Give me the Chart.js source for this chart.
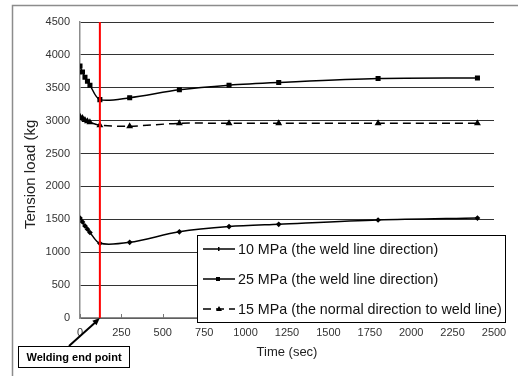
<!DOCTYPE html>
<html>
<head>
<meta charset="utf-8">
<script src="https://cdn.jsdelivr.net/npm/chart.js@4/dist/chart.umd.min.js"></script>
<style>
    html, body { margin: 0; padding: 0; background: #fff; }
    #wrap { width: 518px; height: 376px; }
</style>
</head>
<body>
<div id="wrap"><canvas id="chart"></canvas></div>
<script>
// Data
const times = [0, 15, 30, 45, 60, 120, 300, 600, 900, 1200, 1800, 2400];
const load10 = [1520, 1460, 1400, 1350, 1300, 1135, 1150, 1310, 1390, 1425, 1490, 1520];
const load25 = [3830, 3740, 3660, 3600, 3540, 3320, 3350, 3470, 3540, 3580, 3640, 3650];
const load15 = [3060, 3040, 3010, 2990, 2975, 2930, 2915, 2960, 2960, 2960, 2960, 2960];
const seriesNames = [
    '10 MPa (the weld line direction)',
    '25 MPa (the weld line direction)',
    '15 MPa (the normal direction to weld line)'
];
const weldEnd = 120;
const xTicks = [0, 250, 500, 750, 1000, 1250, 1500, 1750, 2000, 2250, 2500];
const yTicks = [0, 500, 1000, 1500, 2000, 2500, 3000, 3500, 4000, 4500];

const FONT = "'Liberation Sans', Arial, sans-serif";

function toPoints(vals) {
    return times.map((t, i) => ({ x: t, y: vals[i] }));
}

// Frame, titles, red line, legend and callout
const extras = {
    id: 'extras',
    afterDraw(chart) {
        const ctx = chart.ctx;
        const area = chart.chartArea;
        const xs = chart.scales.x;
        ctx.save();

        // outer frame (top + left only visible)
        ctx.strokeStyle = '#8c8c8c';
        ctx.lineWidth = 1.5;
        ctx.beginPath();
        ctx.moveTo(12.5, 380);
        ctx.lineTo(12.5, 5.5);
        ctx.lineTo(520, 5.5);
        ctx.stroke();

        // inward tick marks on x axis
        ctx.strokeStyle = '#777';
        ctx.lineWidth = 1;
        xTicks.forEach(v => {
            const px = Math.round(xs.getPixelForValue(v)) + 0.5;
            ctx.beginPath();
            ctx.moveTo(px, area.bottom);
            ctx.lineTo(px, area.bottom - 4);
            ctx.stroke();
        });

        // welding end line
        const rx = xs.getPixelForValue(weldEnd);
        ctx.strokeStyle = '#ff0000';
        ctx.lineWidth = 2;
        ctx.beginPath();
        ctx.moveTo(rx, area.top);
        ctx.lineTo(rx, area.bottom);
        ctx.stroke();

        // y title
        ctx.fillStyle = '#222';
        ctx.font = '15px ' + FONT;
        ctx.save();
        ctx.translate(35, 229);
        ctx.rotate(-Math.PI / 2);
        ctx.textAlign = 'left';
        ctx.textBaseline = 'alphabetic';
        ctx.fillText('Tension load (kg', 0, 0);
        ctx.restore();

        // x title
        ctx.font = '13px ' + FONT;
        ctx.textAlign = 'center';
        ctx.textBaseline = 'middle';
        ctx.fillText('Time (sec)', (area.left + area.right) / 2, 352);

        // legend box
        const lx = 197.5, ly = 235.5, lw = 308, lh = 87;
        ctx.fillStyle = '#fff';
        ctx.fillRect(lx, ly, lw, lh);
        ctx.strokeStyle = '#000';
        ctx.lineWidth = 1;
        ctx.strokeRect(lx, ly, lw, lh);
        const rows = [249, 279, 309];
        chart.data.datasets.forEach((ds, i) => {
            const y = rows[i];
            ctx.strokeStyle = '#000';
            ctx.lineWidth = 1.5;
            ctx.setLineDash(ds.borderDash || []);
            ctx.beginPath();
            ctx.moveTo(203, y);
            ctx.lineTo(235, y);
            ctx.stroke();
            ctx.setLineDash([]);
            ctx.fillStyle = '#000';
            if (ds.pointStyle === 'rect') {
                ctx.fillRect(216, y - 2, 4, 4);
            } else if (ds.pointStyle === 'triangle') {
                ctx.beginPath();
                ctx.moveTo(219, y - 3);
                ctx.lineTo(222, y + 2);
                ctx.lineTo(216, y + 2);
                ctx.closePath();
                ctx.fill();
            } else {
                ctx.fillRect(218, y - 2, 1.5, 4);
            }
            ctx.fillStyle = '#111';
            ctx.font = '14.3px ' + FONT;
            ctx.textAlign = 'left';
            ctx.textBaseline = 'middle';
            ctx.fillText(seriesNames[i], 238, y + 1);
        });

        // callout box and arrow
        ctx.strokeStyle = '#000';
        ctx.lineWidth = 1;
        ctx.fillStyle = '#fff';
        ctx.fillRect(18.5, 346.5, 111, 21);
        ctx.strokeRect(18.5, 346.5, 111, 21);
        ctx.fillStyle = '#000';
        ctx.font = 'bold 11px ' + FONT;
        ctx.textAlign = 'center';
        ctx.fillText('Welding end point', 74, 357.5);

        ctx.lineWidth = 2;
        ctx.beginPath();
        ctx.moveTo(69, 346);
        ctx.lineTo(rx - 3, area.bottom + 3);
        ctx.stroke();
        // arrow head
        const ang = Math.atan2(area.bottom - 346, rx - 69);
        const hx = rx, hy = area.bottom;
        ctx.beginPath();
        ctx.moveTo(hx, hy);
        ctx.lineTo(hx - 8 * Math.cos(ang - 0.4), hy - 8 * Math.sin(ang - 0.4));
        ctx.lineTo(hx - 8 * Math.cos(ang + 0.4), hy - 8 * Math.sin(ang + 0.4));
        ctx.closePath();
        ctx.fill();

        ctx.restore();
    }
};

new Chart(document.getElementById('chart'), {
    type: 'line',
    data: {
        datasets: [
            {
                label: seriesNames[0],
                data: toPoints(load10),
                borderColor: '#000',
                backgroundColor: '#000',
                borderWidth: 1.5,
                pointStyle: 'rectRot',
                pointRadius: 1.8,
                tension: 0.3
            },
            {
                label: seriesNames[1],
                data: toPoints(load25),
                borderColor: '#000',
                backgroundColor: '#000',
                borderWidth: 1.5,
                pointStyle: 'rect',
                pointRadius: 2.5,
                tension: 0.3
            },
            {
                label: seriesNames[2],
                data: toPoints(load15),
                borderColor: '#000',
                backgroundColor: '#000',
                borderWidth: 1.5,
                borderDash: [8, 5],
                pointStyle: 'triangle',
                pointRadius: 2.5,
                tension: 0.3
            }
        ]
    },
    options: {
        responsive: true,
        maintainAspectRatio: false,
        animation: false,
        layout: { padding: { left: 0, top: 22, right: 24, bottom: 0 } },
        plugins: {
            legend: { display: false },
            tooltip: { enabled: false }
        },
        scales: {
            x: {
                type: 'linear',
                min: 0,
                max: 2500,
                afterFit: (s) => { s.height = 58; },
                afterBuildTicks: (s) => { s.ticks = xTicks.map(v => ({ value: v })); },
                grid: { drawOnChartArea: false, drawTicks: false },
                border: { color: '#8c8c8c', width: 1.5 },
                ticks: {
                    color: '#333',
                    font: { family: FONT, size: 11 },
                    padding: 8,
                    callback: (v) => String(v)
                }
            },
            y: {
                min: 0,
                max: 4500,
                afterFit: (s) => { s.width = 80; },
                afterBuildTicks: (s) => { s.ticks = yTicks.map(v => ({ value: v })); },
                grid: { color: '#333', lineWidth: 1, drawTicks: false },
                border: { color: '#8c8c8c', width: 1.5 },
                ticks: {
                    color: '#333',
                    font: { family: FONT, size: 11 },
                    padding: 10,
                    callback: (v) => String(v)
                }
            }
        }
    },
    plugins: [extras]
});
</script>
</body>
</html>
